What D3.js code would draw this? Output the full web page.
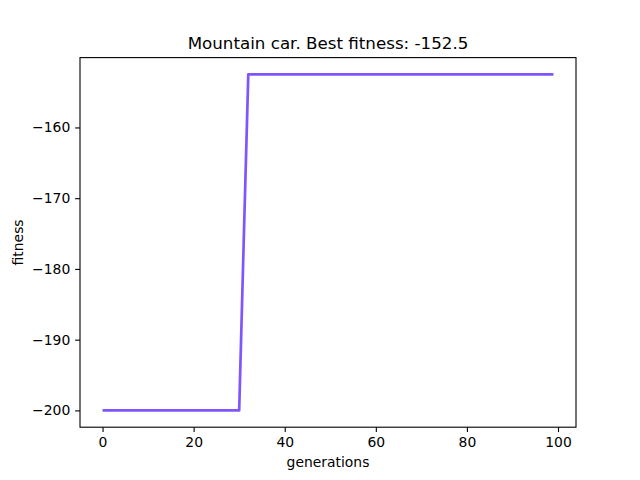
<!DOCTYPE html>
<html>
<head>
<meta charset="utf-8">
<script src="https://cdn.jsdelivr.net/npm/d3@7"></script>
<style>
  body { margin: 0; background: #fff; }
  svg { display: block; font-family: 'DejaVu Sans', sans-serif; }
</style>
</head>
<body>
<script>
// best fitness per generation
const generations = d3.range(0, 100)
const fitness = generations.map(g => g <= 30 ? -200 : g === 31 ? -176 : -152.5)
const xTicks = [0, 20, 40, 60, 80, 100]
const yTicks = [-200, -190, -180, -170, -160]

const width = 640
const height = 480
const margin = { top: 57.6, right: 64, bottom: 52.8, left: 80 }

const svg = d3.select('body').append('svg')
    .attr('width', width)
    .attr('height', height)

const x = d3.scaleLinear()
    .domain([-4.95, 103.95])
    .range([margin.left, width - margin.right])

const y = d3.scaleLinear()
    .domain([-202.375, -150.125])
    .range([height - margin.bottom, margin.top])

const fmt = d => String(d).replace('-', '\u2212')

const xAxis = svg.append('g')
    .attr('transform', `translate(0,${height - margin.bottom})`)
    .call(d3.axisBottom(x).tickValues(xTicks).tickSize(4.86).tickPadding(4.9).tickFormat(fmt))
const yAxis = svg.append('g')
    .attr('transform', `translate(${margin.left},0)`)
    .call(d3.axisLeft(y).tickValues(yTicks).tickSize(4.86).tickPadding(4.9).tickFormat(fmt))

for (const ax of [xAxis, yAxis]) {
    ax.select('.domain').remove()
    ax.selectAll('line').attr('stroke', '#000').attr('stroke-width', 1.1)
    ax.selectAll('text')
        .attr('font-family', 'DejaVu Sans, sans-serif')
        .attr('font-size', 13.9)
        .attr('fill', '#000')
}

svg.append('path')
    .datum(generations)
    .attr('fill', 'none')
    .attr('stroke', '#7f55ff')
    .attr('stroke-width', 2.7)
    .attr('stroke-linejoin', 'round')
    .attr('d', d3.line().x(g => x(g)).y((g, i) => y(fitness[i])))

svg.append('rect')
    .attr('x', margin.left)
    .attr('y', margin.top)
    .attr('width', width - margin.left - margin.right)
    .attr('height', height - margin.top - margin.bottom)
    .attr('fill', 'none')
    .attr('stroke', '#000')
    .attr('stroke-width', 1.1)

svg.append('text')
    .attr('x', (margin.left + width - margin.right) / 2)
    .attr('y', margin.top - 9)
    .attr('text-anchor', 'middle')
    .attr('font-size', 16.7)
    .text('Mountain car. Best fitness: -152.5')

svg.append('text')
    .attr('x', (margin.left + width - margin.right) / 2)
    .attr('y', 467)
    .attr('text-anchor', 'middle')
    .attr('font-size', 13.9)
    .text('generations')

svg.append('text')
    .attr('transform', `translate(23,${(margin.top + height - margin.bottom) / 2}) rotate(-90)`)
    .attr('text-anchor', 'middle')
    .attr('font-size', 13.9)
    .text('fitness')
</script>
</body>
</html>
